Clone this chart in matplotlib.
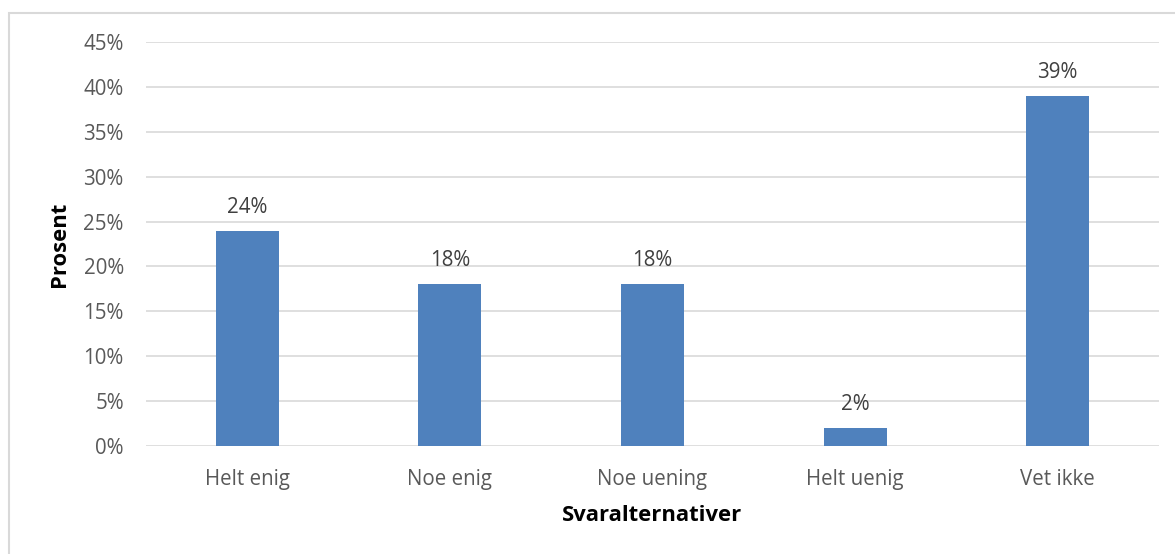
import matplotlib.pyplot as plt
from matplotlib.patches import Rectangle

# Survey data
categories = ["Helt enig", "Noe enig", "Noe uening", "Helt uenig", "Vet ikke"]
values = [24, 18, 18, 2, 39]
yticks = [0, 5, 10, 15, 20, 25, 30, 35, 40, 45]

plt.rcParams["font.family"] = ["Open Sans", "DejaVu Sans"]

fig = plt.figure(figsize=(11.75, 5.54), dpi=100)
ax = fig.add_axes([146 / 1175, 108 / 554, 1013 / 1175, 404 / 554])

x = range(len(categories))
bars = ax.bar(x, values, width=0.31, color="#4F81BD", zorder=3)

for xi, v in zip(x, values):
    ax.text(xi, v + 1.45, f"{v}%", ha="center", va="bottom", fontsize=14.8, color="#404040")

ax.set_xlim(-0.5, len(categories) - 0.5)
ax.set_ylim(0, 45)
ax.set_yticks(yticks)
ax.set_yticklabels([f"{t}%" for t in yticks])
ax.set_xticks(list(x))
ax.set_xticklabels(categories)
ax.tick_params(axis="both", length=0, labelsize=14.8, labelcolor="#595959")
ax.tick_params(axis="y", pad=16)
ax.tick_params(axis="x", pad=16.5)
ax.grid(axis="y", color="#D9D9D9", linewidth=1.2, zorder=0)
for s in ax.spines.values():
    s.set_visible(False)

ax.set_ylabel("Prosent", fontsize=15.8, fontweight="bold", color="black", labelpad=9.5)
ax.set_xlabel("Svaralternativer", fontsize=15.8, fontweight="bold", color="black", labelpad=11)

# chart-area border
fig.patches.append(Rectangle((8.5 / 1175, -0.05), 1.1, (554 - 12.5) / 554 + 0.05,
                             transform=fig.transFigure, fill=False,
                             edgecolor="#D9D9D9", linewidth=1.5, clip_on=False))

fig.savefig("out.png", dpi=100)
